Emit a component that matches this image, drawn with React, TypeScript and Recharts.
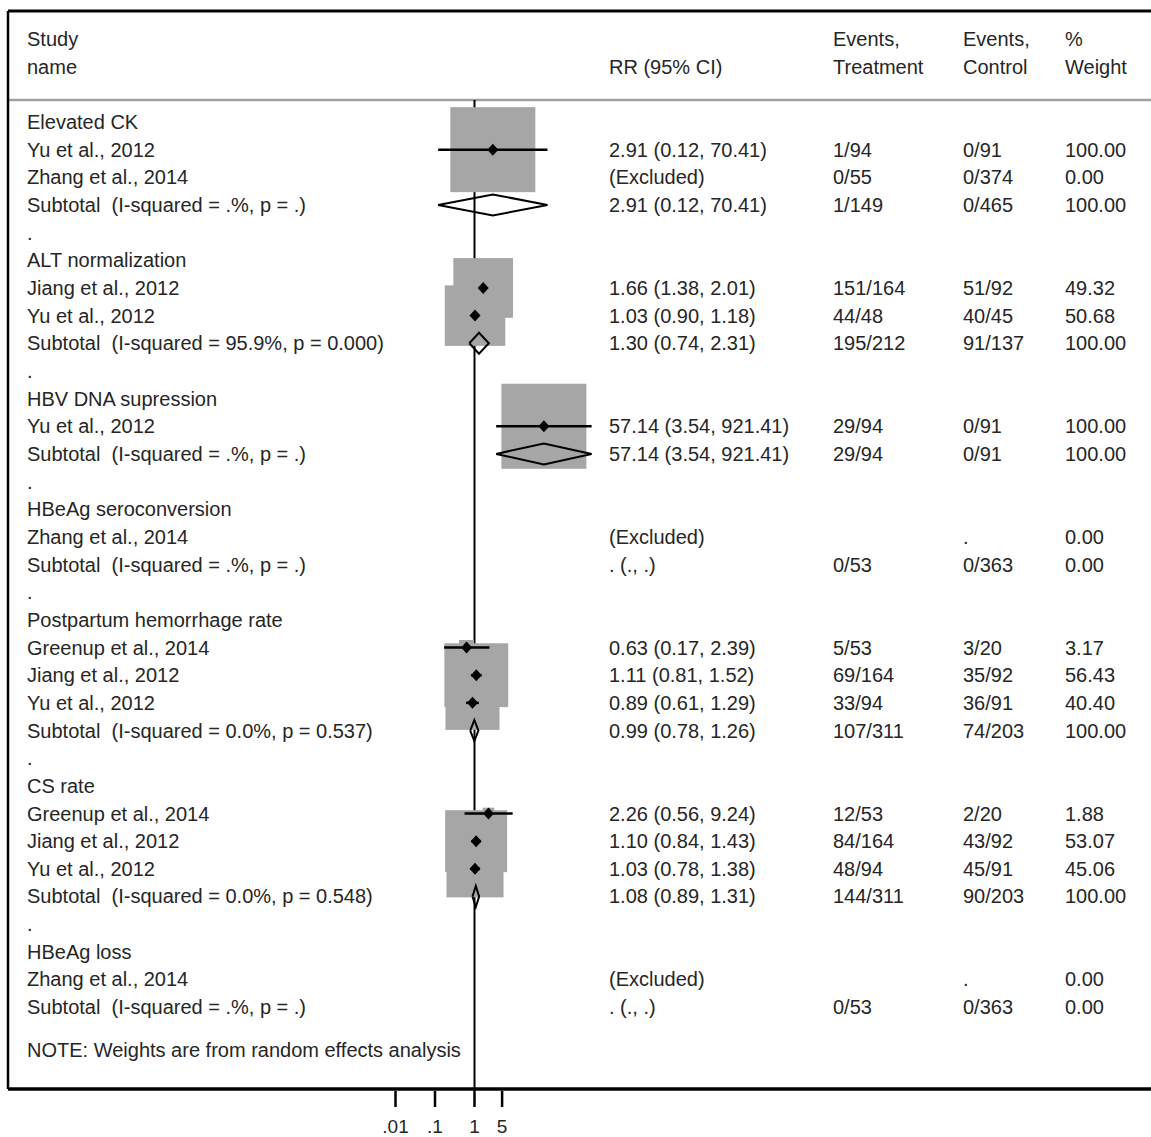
import React from 'react';
import { ComposedChart, XAxis, YAxis, Scatter } from 'recharts';

const FONT = '"Liberation Sans", Arial, sans-serif';
const TEXT = '#262626';
const BOX_GREY = '#a6a6a6';

// Row labels, one per table row (row index = position on the y axis)
const rowNames = [
  'Elevated CK', 'Yu et al., 2012', 'Zhang et al., 2014', 'Subtotal  (I-squared = .%, p = .)', '.',
  'ALT normalization', 'Jiang et al., 2012', 'Yu et al., 2012', 'Subtotal  (I-squared = 95.9%, p = 0.000)', '.',
  'HBV DNA supression', 'Yu et al., 2012', 'Subtotal  (I-squared = .%, p = .)', '.',
  'HBeAg seroconversion', 'Zhang et al., 2014', 'Subtotal  (I-squared = .%, p = .)', '.',
  'Postpartum hemorrhage rate', 'Greenup et al., 2014', 'Jiang et al., 2012', 'Yu et al., 2012', 'Subtotal  (I-squared = 0.0%, p = 0.537)', '.',
  'CS rate', 'Greenup et al., 2014', 'Jiang et al., 2012', 'Yu et al., 2012', 'Subtotal  (I-squared = 0.0%, p = 0.548)', '.',
  'HBeAg loss', 'Zhang et al., 2014', 'Subtotal  (I-squared = .%, p = .)',
];

const treatmentEvents = [
  '', '1/94', '0/55', '1/149', '',
  '', '151/164', '44/48', '195/212', '',
  '', '29/94', '29/94', '',
  '', '', '0/53', '',
  '', '5/53', '69/164', '33/94', '107/311', '',
  '', '12/53', '84/164', '48/94', '144/311', '',
  '', '', '0/53',
];

const controlEvents = [
  '', '0/91', '0/374', '0/465', '',
  '', '51/92', '40/45', '91/137', '',
  '', '0/91', '0/91', '',
  '', '.', '0/363', '',
  '', '3/20', '35/92', '36/91', '74/203', '',
  '', '2/20', '43/92', '45/91', '90/203', '',
  '', '.', '0/363',
];

// Individual studies
const studyRows = [1, 6, 7, 11, 19, 20, 21, 25, 26, 27];
const studyRR = [2.91, 1.66, 1.03, 57.14, 0.63, 1.11, 0.89, 2.26, 1.10, 1.03];
const studyLower = [0.12, 1.38, 0.90, 3.54, 0.17, 0.81, 0.61, 0.56, 0.84, 0.78];
const studyUpper = [70.41, 2.01, 1.18, 921.41, 2.39, 1.52, 1.29, 9.24, 1.43, 1.38];
const studyWeight = [100.0, 49.32, 50.68, 100.0, 3.17, 56.43, 40.4, 1.88, 53.07, 45.06];

// Pooled subtotals
const subtotalRows = [3, 8, 12, 22, 28];
const subtotalRR = [2.91, 1.3, 57.14, 0.99, 1.08];
const subtotalLower = [0.12, 0.74, 3.54, 0.78, 0.89];
const subtotalUpper = [70.41, 2.31, 921.41, 1.26, 1.31];

const excludedRows = [2, 15, 31];
const emptySubtotalRows = [16, 32];

const axisTicks = [0.01, 0.1, 1, 5];
const axisTickLabels = ['.01', '.1', '1', '5'];

// geometry
const W = 1151;
const H = 1137;
const PLOT_BOTTOM = 1091;
const NULL_X = 474.5;
const PX_PER_DECADE = 39.5;
const FIRST_ROW_Y = 122;
const ROW_PX = 27.66;
const BOX_FULL = 85;
const DIAMOND_HALF = 0.38;

const xAt = (px: number) => 10 ** ((px - NULL_X) / PX_PER_DECADE);
const rowAt = (py: number) => (py - FIRST_ROW_Y) / ROW_PX;

const xMin = xAt(0);
const xMax = xAt(W);
const yMin = rowAt(0);
const yMax = rowAt(PLOT_BOTTOM);

// frame of the table
const FRAME_LEFT = xAt(8);
const FRAME_TOP = rowAt(11);
const FRAME_BOTTOM = rowAt(1089);
const HEADER_LINE_ROW = rowAt(100);
const NOTE_ROW = 33.55;

const fmt = (v: number) => v.toFixed(2);

const studies = studyRows.map((row, i) => ({ x: studyRR[i], y: row, weight: studyWeight[i] }));

const ciSegments = studyRows.map((row, i) => [
  { x: studyLower[i], y: row },
  { x: studyUpper[i], y: row },
]);

const diamonds = subtotalRows.map((row, i) => [
  { x: subtotalLower[i], y: row },
  { x: subtotalRR[i], y: row - DIAMOND_HALF },
  { x: subtotalUpper[i], y: row },
  { x: subtotalRR[i], y: row + DIAMOND_HALF },
  { x: subtotalLower[i], y: row },
]);

const rrText: Record<number, string> = {};
const weightText: Record<number, string> = {};
studyRows.forEach((row, i) => {
  rrText[row] = `${fmt(studyRR[i])} (${fmt(studyLower[i])}, ${fmt(studyUpper[i])})`;
  weightText[row] = fmt(studyWeight[i]);
});
subtotalRows.forEach((row, i) => {
  rrText[row] = `${fmt(subtotalRR[i])} (${fmt(subtotalLower[i])}, ${fmt(subtotalUpper[i])})`;
  weightText[row] = '100.00';
});
excludedRows.forEach((row) => {
  rrText[row] = '(Excluded)';
  weightText[row] = '0.00';
});
emptySubtotalRows.forEach((row) => {
  rrText[row] = '. (., .)';
  weightText[row] = '0.00';
});

type TableRow = { x: number; y: number; cols: string[] };

const tableRows: TableRow[] = [
  { x: 1, y: -3, cols: ['Study', '', 'Events,', 'Events,', '%'] },
  { x: 1, y: -2, cols: ['name', 'RR (95% CI)', 'Treatment', 'Control', 'Weight'] },
  ...rowNames.map((name, i) => ({
    x: 1,
    y: i,
    cols: [name, rrText[i] || '', treatmentEvents[i], controlEvents[i], weightText[i] || ''],
  })),
  { x: 1, y: NOTE_ROW, cols: ['NOTE: Weights are from random effects analysis', '', '', '', ''] },
];

const COL_X = [27, 609, 833, 963, 1065];

// frame, header rule and the line of no effect
const guides = [
  { data: [{ x: FRAME_LEFT, y: HEADER_LINE_ROW }, { x: xMax, y: HEADER_LINE_ROW }], stroke: '#a0a0a0', width: 2.5 },
  { data: [{ x: 1, y: HEADER_LINE_ROW }, { x: 1, y: yMax }], stroke: '#000', width: 2 },
  { data: [{ x: FRAME_LEFT, y: FRAME_TOP }, { x: xMax, y: FRAME_TOP }], stroke: '#000', width: 3 },
  { data: [{ x: FRAME_LEFT, y: FRAME_TOP }, { x: FRAME_LEFT, y: FRAME_BOTTOM }], stroke: '#000', width: 2.5 },
  { data: [{ x: FRAME_LEFT, y: FRAME_BOTTOM }, { x: xMax, y: FRAME_BOTTOM }], stroke: '#000', width: 3.5 },
];

const noSymbol = () => <g />;

const renderBox = (props: any) => {
  const { cx, cy, payload } = props;
  const s = BOX_FULL * Math.sqrt(payload.weight / 100);
  return <rect x={cx - s / 2} y={cy - s / 2} width={s} height={s} fill={BOX_GREY} />;
};

const renderMarker = (props: any) => {
  const { cx, cy } = props;
  return (
    <path
      d={`M${cx - 5.5},${cy} L${cx},${cy - 6} L${cx + 5.5},${cy} L${cx},${cy + 6} Z`}
      fill="#000"
    />
  );
};

const renderRow = (props: any) => {
  const { cy, payload } = props;
  return (
    <g>
      {payload.cols.map((t: string, i: number) =>
        t ? (
          <text
            key={i}
            x={COL_X[i]}
            y={cy}
            dy="0.35em"
            fontFamily={FONT}
            fontSize={20}
            fill={TEXT}
            style={{ whiteSpace: 'pre' }}
          >
            {t}
          </text>
        ) : null
      )}
    </g>
  );
};

export default function App() {
  return (
    <div style={{ position: 'absolute', left: 0, top: 0, width: W, height: H, background: '#fff' }}>
      <ComposedChart width={W} height={H} margin={{ top: 0, right: 0, bottom: 0, left: 0 }}>
        <XAxis
          type="number"
          dataKey="x"
          scale="log"
          domain={[xMin, xMax]}
          allowDataOverflow
          ticks={axisTicks}
          tickFormatter={(v: number) => axisTickLabels[axisTicks.indexOf(v)] ?? String(v)}
          height={H - PLOT_BOTTOM}
          axisLine={false}
          tickLine={{ stroke: '#000', strokeWidth: 2.5 }}
          tickSize={16}
          tickMargin={13}
          tick={{ fill: TEXT, fontSize: 19, fontFamily: FONT }}
          interval={0}
        />
        <YAxis type="number" dataKey="y" domain={[yMin, yMax]} allowDataOverflow reversed width={0} hide />

        {guides.map((g, i) => (
          <Scatter
            key={`guide-${i}`}
            data={g.data}
            line={{ stroke: g.stroke, strokeWidth: g.width }}
            lineType="joint"
            shape={noSymbol}
            isAnimationActive={false}
          />
        ))}
        <Scatter data={studies} shape={renderBox} isAnimationActive={false} />
        {ciSegments.map((seg, i) => (
          <Scatter
            key={`ci-${i}`}
            data={seg}
            line={{ stroke: '#000', strokeWidth: 2.5 }}
            lineType="joint"
            shape={noSymbol}
            isAnimationActive={false}
          />
        ))}
        <Scatter data={studies} shape={renderMarker} isAnimationActive={false} />
        {diamonds.map((d, i) => (
          <Scatter
            key={`pooled-${i}`}
            data={d}
            line={{ stroke: '#000', strokeWidth: 2, fill: 'none' }}
            lineType="joint"
            shape={noSymbol}
            isAnimationActive={false}
          />
        ))}
        <Scatter data={tableRows} shape={renderRow} isAnimationActive={false} />
      </ComposedChart>
    </div>
  );
}
